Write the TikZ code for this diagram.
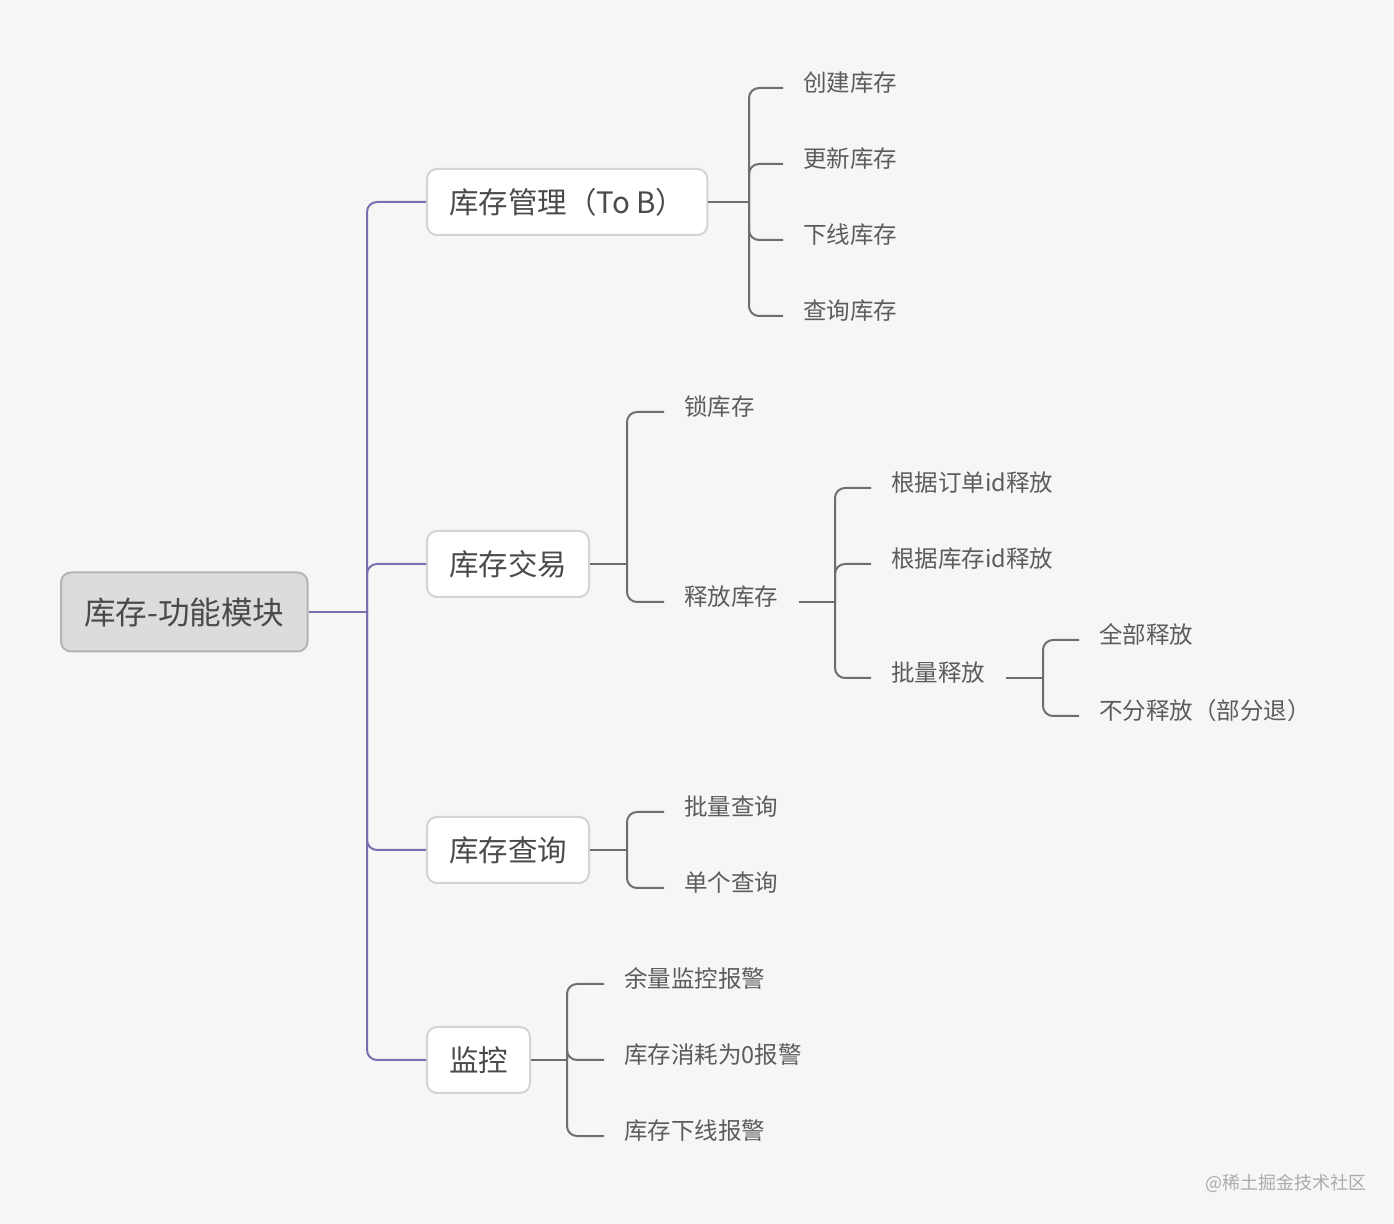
\documentclass[tikz,border=0pt]{standalone}
\usepackage{fontspec}
\setmainfont{Noto Sans CJK SC}
\definecolor{bgcol}{HTML}{F6F6F6}
\definecolor{trunkcol}{HTML}{7A6EAE}
\definecolor{linkcol}{HTML}{6E6E6E}
\definecolor{rootfill}{HTML}{DCDCDC}
\definecolor{rootline}{HTML}{B4B4B4}
\definecolor{boxline}{HTML}{D4D4D4}
\definecolor{txtcol}{HTML}{4A4A4A}
\definecolor{leafcol}{HTML}{5C5C5C}
\definecolor{markcol}{HTML}{ABABAB}
\tikzset{
  rootbox/.style={anchor=west, draw=rootline, fill=rootfill, line width=1pt,
    rounded corners=5pt, inner xsep=11.5pt, minimum height=39.5pt, text=txtcol,
    font=\fontsize{15.8}{19}\selectfont, text height=14pt, text depth=1.9pt},
  topicbox/.style={anchor=west, draw=boxline, fill=white, line width=1pt,
    rounded corners=5pt, inner xsep=11pt, minimum height=33pt, text=txtcol,
    font=\fontsize{14.75}{18}\selectfont, text height=13pt, text depth=1.8pt},
  leaf/.style={anchor=west, inner xsep=10pt, inner ysep=0pt, text=leafcol,
    font=\fontsize{11.75}{14}\selectfont, text height=9.2pt, text depth=5.6pt},
  trunk/.style={draw=trunkcol, line width=1pt, rounded corners=5pt},
  link/.style={draw=linkcol, line width=1pt, rounded corners=5pt},
  credit/.style={anchor=west, text=markcol, font=\fontsize{9}{11}\selectfont}
}
\begin{document}
\begin{tikzpicture}[x=0.5pt,y=-0.5pt]
  \fill[bgcol] (0,0) rectangle (1394,1224);
  \useasboundingbox (0,0) rectangle (1394,1224);

  % root and main topics
  \node[rootbox] (root) at (60,612) {库存-功能模块};
  \node[topicbox] (mgmt) at (426,202) {库存管理（To B）};
  \node[topicbox] (trade) at (426,564) {库存交易};
  \node[topicbox] (query) at (426,850) {库存查询};
  \node[topicbox] (watch) at (426,1060) {监控};

  \coordinate (jroot) at (367,612);
  \draw[trunk] (root.east) -- (jroot);
  \foreach \t in {mgmt,trade,query,watch}
    \draw[trunk] (jroot) |- (\t.west);

  % 库存管理
  \node[leaf] (create) at (783,88) {创建库存};
  \node[leaf] (update) at (783,164) {更新库存};
  \node[leaf] (offline) at (783,240) {下线库存};
  \node[leaf] (lookup) at (783,316) {查询库存};
  \coordinate (jmgmt) at (749,202);
  \draw[link] (mgmt.east) -- (jmgmt);
  \foreach \c in {create,update,offline,lookup}
    \draw[link] (jmgmt) |- (\c.west);

  % 库存交易
  \node[leaf] (lock) at (664,412) {锁库存};
  \node[leaf] (release) at (664,602) {释放库存};
  \coordinate (jtrade) at (627,564);
  \draw[link] (trade.east) -- (jtrade);
  \foreach \c in {lock,release}
    \draw[link] (jtrade) |- (\c.west);

  \node[leaf] (byorder) at (871,488) {根据订单id释放};
  \node[leaf] (bystock) at (871,564) {根据库存id释放};
  \node[leaf] (batch) at (871,678) {批量释放};
  \coordinate (jrelease) at (835,602);
  \draw[link] (release.east) -- (jrelease);
  \foreach \c in {byorder,bystock,batch}
    \draw[link] (jrelease) |- (\c.west);

  \node[leaf] (all) at (1079,640) {全部释放};
  \node[leaf] (partial) at (1079,716) {不分释放（部分退）};
  \coordinate (jbatch) at (1043,678);
  \draw[link] (batch.east) -- (jbatch);
  \foreach \c in {all,partial}
    \draw[link] (jbatch) |- (\c.west);

  % 库存查询
  \node[leaf] (multi) at (664,812) {批量查询};
  \node[leaf] (single) at (664,888) {单个查询};
  \coordinate (jquery) at (627,850);
  \draw[link] (query.east) -- (jquery);
  \foreach \c in {multi,single}
    \draw[link] (jquery) |- (\c.west);

  % 监控
  \node[leaf] (remain) at (604,984) {余量监控报警};
  \node[leaf] (empty) at (604,1060) {库存消耗为0报警};
  \node[leaf] (down) at (604,1136) {库存下线报警};
  \coordinate (jwatch) at (567,1060);
  \draw[link] (watch.east) -- (jwatch);
  \foreach \c in {remain,empty,down}
    \draw[link] (jwatch) |- (\c.west);

  \node[credit] (mark) at (1198,1183) {@稀土掘金技术社区};
\end{tikzpicture}
\end{document}
